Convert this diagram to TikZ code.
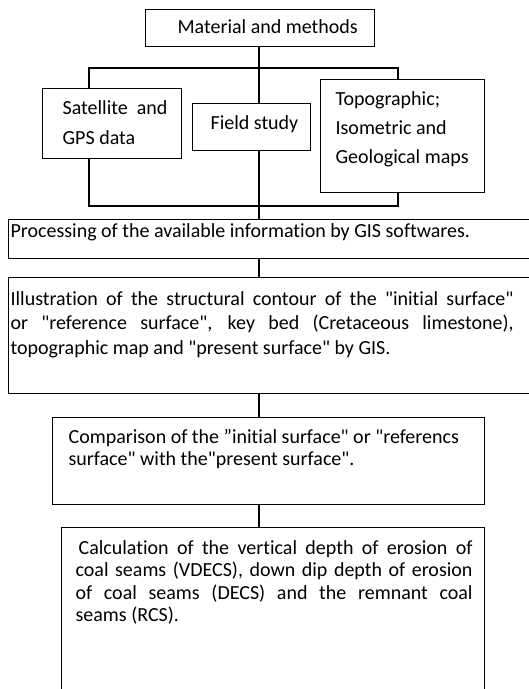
\documentclass[tikz,border=0pt]{standalone}
\usepackage{fontspec}
\setmainfont{Carlito}[Ligatures={TeXOff,CommonOff}]
\usepackage{tikz}

% text inside a box: width, height, top gap, left and right skip, text
\newcommand{\boxtext}[6]{\parbox[c][#2pt][t]{#1pt}{\tolerance=10000\hbadness=10000
\leftskip=#4pt\rightskip=#5pt\vspace*{#3pt}\noindent#6}}

\begin{document}
\begin{tikzpicture}[x=1pt,y=-1pt,font=\fontsize{20}{24.5}\selectfont]
\tikzstyle{every node}=[draw,line width=1.2pt,inner sep=0pt,anchor=north west]
\tikzstyle{link}=[line width=1.2pt]

\useasboundingbox (0,0) rectangle (529,689);
\clip (0,0) rectangle (529,689);

\node (mat) at (145,9) {\boxtext{229}{37}{10}{32}{0}{Material and methods}};

\node (sat) at (42,88) {\boxtext{139}{70}{12}{20}{0}{\baselineskip=30pt Satellite\ \ and\\GPS data}};
\node (field) at (192,103) {\boxtext{118}{47}{12}{18}{0}{Field study}};
\node (topo) at (320,79) {\boxtext{164}{113}{12}{15}{0}{\baselineskip=29pt Topographic;\\Isometric and\\Geological maps}};

\node (proc) at (8,219) {\boxtext{540}{39}{4}{2}{0}{Processing of the available information by GIS softwares.}};
\node (illus) at (8,277) {\boxtext{540}{116}{14}{2}{35}{Illustration of the structural contour of the "initial surface" \linebreak
or "reference surface", key bed (Cretaceous limestone), \linebreak
topographic map and "present surface" by GIS.}};
\node (comp) at (52,417) {\boxtext{432}{87}{12}{16}{0}{\baselineskip=21.5pt Comparison of the ”initial surface" or "referencs\\
surface" with the"present surface".}};
\node (calc) at (61,527) {\boxtext{423}{180}{13}{14}{12}{\baselineskip=22.5pt \hspace*{3pt}Calculation of the vertical depth of erosion of \linebreak
coal seams (VDECS), down dip depth of erosion \linebreak
of coal seams (DECS) and the remnant coal \linebreak
seams (RCS).}};

% bus lines
\coordinate (spine) at (259,68);
\coordinate (busL) at (89,68);
\coordinate (busR) at (398,68);
\coordinate (lowL) at (89,206);
\coordinate (lowR) at (398,206);

\draw[link] (spine |- mat.south) -- (spine |- field.north);
\draw[link] (busL |- sat.north) -- (busL) -- (busR) -- (busR |- topo.north);
\draw[link] (busL |- sat.south) -- (lowL) -- (lowR) -- (busR |- topo.south);
\draw[link] (spine |- field.south) -- (spine |- proc.north);
\draw[link] (spine |- proc.south) -- (spine |- illus.north);
\draw[link] (spine |- illus.south) -- (spine |- comp.north);
\draw[link] (spine |- comp.south) -- (spine |- calc.north);
\end{tikzpicture}
\end{document}
